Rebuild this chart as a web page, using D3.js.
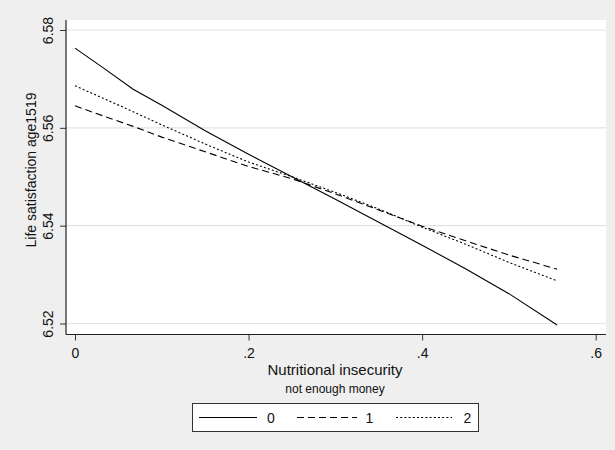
<!DOCTYPE html>
<html>
<head>
<meta charset="utf-8">
<script src="https://cdn.jsdelivr.net/npm/d3@7/dist/d3.min.js"></script>
<style>
  html, body { margin: 0; padding: 0; background: #efefef; }
  svg { display: block; }
  text { font-family: "Liberation Sans", Arial, Helvetica, sans-serif; fill: #111; }
</style>
</head>
<body>
<svg id="chart" width="615" height="450"></svg>
<script>
// ---- data ----
const xValues = [0, 0.033, 0.067, 0.1, 0.15, 0.2, 0.25, 0.3, 0.35, 0.4, 0.45, 0.5, 0.5555];
const series0 = [6.5763, 6.5722, 6.5679, 6.5646, 6.5594, 6.5546, 6.5500, 6.5454, 6.5407, 6.5360, 6.5312, 6.5261, 6.5197];
const series1 = [6.5645, 6.5624, 6.5603, 6.5581, 6.5551, 6.5521, 6.5496, 6.5465, 6.5432, 6.5399, 6.5369, 6.5340, 6.5311];
const series2 = [6.5686, 6.5660, 6.5633, 6.5606, 6.5567, 6.5530, 6.5500, 6.5468, 6.5434, 6.5397, 6.5362, 6.5325, 6.5287];
const seriesNames = ["0", "1", "2"];
const xTicks = [0, 0.2, 0.4, 0.6];
const xTickLabels = ["0", ".2", ".4", ".6"];
const yTicks = [6.52, 6.54, 6.56, 6.58];
const yTickLabels = ["6.52", "6.54", "6.56", "6.58"];
const xTitle = "Nutritional insecurity";
const xSubtitle = "not enough money";
const yTitle = "Life satisfaction age1519";

// ---- layout ----
const svg = d3.select("#chart");
const plot = { left: 66, right: 606, top: 20, bottom: 334.5 };
const x = d3.scaleLinear().domain([0, 0.6]).range([75, 595.7]);
const y = d3.scaleLinear().domain([6.52, 6.58]).range([323.5, 30]);

const dashes = ["none", "7,4", "2,2.2"];

// background
svg.append("rect").attr("x", 0).attr("y", 0).attr("width", 615).attr("height", 450).attr("fill", "#efefef");
svg.append("rect")
  .attr("x", plot.left).attr("y", plot.top)
  .attr("width", plot.right - plot.left).attr("height", plot.bottom - plot.top)
  .attr("fill", "#ffffff");

// gridlines
svg.append("g").selectAll("line").data(yTicks).join("line")
  .attr("x1", plot.left).attr("x2", plot.right)
  .attr("y1", d => y(d)).attr("y2", d => y(d))
  .attr("stroke", "#e3e3e3").attr("stroke-width", 1.2);

// series lines
const lineGen = d3.line().x((d, i) => x(xValues[i])).y(d => y(d));
const allSeries = [series0, series1, series2];
svg.append("g").selectAll("path").data(allSeries).join("path")
  .attr("d", d => lineGen(d))
  .attr("fill", "none")
  .attr("stroke", "#000")
  .attr("stroke-width", 1.1)
  .attr("stroke-dasharray", (d, i) => dashes[i]);

// y axis
const yAxis = svg.append("g").attr("transform", `translate(${plot.left},0)`)
  .call(d3.axisLeft(y).tickValues(yTicks).tickFormat((d, i) => yTickLabels[i]).tickSize(6).tickSizeOuter(0));
yAxis.select(".domain").remove();
yAxis.selectAll(".tick line").attr("stroke", "#333");
yAxis.selectAll(".tick text")
  .attr("transform", "rotate(-90)")
  .attr("x", 0).attr("y", -13).attr("dy", 0)
  .attr("text-anchor", "middle")
  .style("font-size", "14px").style("font-family", "'Liberation Sans', Arial, sans-serif").attr("fill", "#111");

// x axis
const xAxis = svg.append("g").attr("transform", `translate(0,${plot.bottom})`)
  .call(d3.axisBottom(x).tickValues(xTicks).tickFormat((d, i) => xTickLabels[i]).tickSize(6).tickSizeOuter(0));
xAxis.select(".domain").remove();
xAxis.selectAll(".tick line").attr("stroke", "#333");
xAxis.selectAll(".tick text")
  .attr("y", 23.5).attr("dy", 0)
  .style("font-size", "14px").style("font-family", "'Liberation Sans', Arial, sans-serif").attr("fill", "#111");

// axis lines
svg.append("line").attr("x1", plot.left).attr("x2", plot.left).attr("y1", plot.top).attr("y2", plot.bottom)
  .attr("stroke", "#222").attr("stroke-width", 1.2);
svg.append("line").attr("x1", plot.left).attr("x2", plot.right).attr("y1", plot.bottom).attr("y2", plot.bottom)
  .attr("stroke", "#222").attr("stroke-width", 1.2);

// titles
const cx = (plot.left + plot.right) / 2 - 1;
svg.append("text").attr("x", cx).attr("y", 375).attr("text-anchor", "middle")
  .style("font-size", "15px").text(xTitle);
svg.append("text").attr("x", cx).attr("y", 392.5).attr("text-anchor", "middle")
  .style("font-size", "12px").text(xSubtitle);
svg.append("text").attr("transform", "translate(36,170) rotate(-90)").attr("text-anchor", "middle")
  .style("font-size", "14px").text(yTitle);

// legend
const legend = svg.append("g");
legend.append("rect").attr("x", 192.5).attr("y", 403.5).attr("width", 286).attr("height", 28)
  .attr("fill", "#fff").attr("stroke", "#333").attr("stroke-width", 1);
const legItems = [
  { x1: 199, x2: 257, tx: 271 },
  { x1: 297, x2: 357, tx: 369.5 },
  { x1: 396, x2: 452, tx: 467.5 }
];
seriesNames.forEach((name, i) => {
  legend.append("line").attr("x1", legItems[i].x1).attr("x2", legItems[i].x2)
    .attr("y1", 417.5).attr("y2", 417.5)
    .attr("stroke", "#000").attr("stroke-width", 1.1).attr("stroke-dasharray", dashes[i]);
  legend.append("text").attr("x", legItems[i].tx).attr("y", 422.5).attr("text-anchor", "middle")
    .style("font-size", "14px").text(name);
});
</script>
</body>
</html>
